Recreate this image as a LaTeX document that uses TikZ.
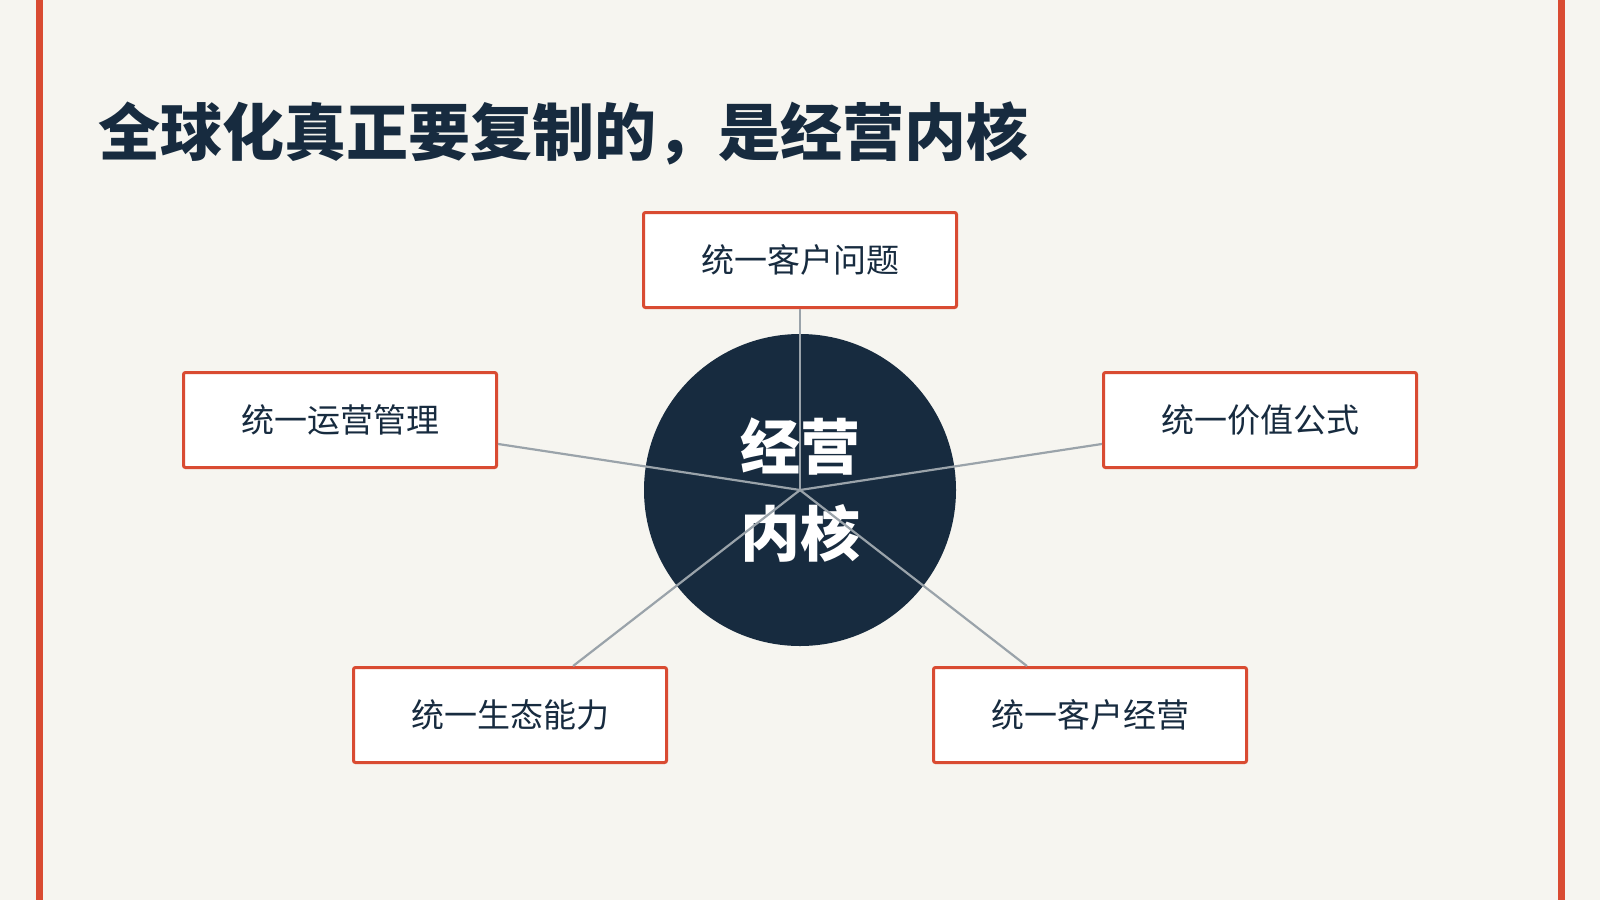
\documentclass[tikz,border=0pt]{standalone}
\usepackage{fontspec}
\newfontfamily\cjk{Noto Sans CJK SC}
\usepackage{tikz}
\definecolor{paper}{HTML}{F6F5F0}
\definecolor{brick}{HTML}{D94B32}
\definecolor{navy}{HTML}{172B3F}
\definecolor{spoke}{HTML}{9AA3AA}
\tikzset{
  pillar/.style={draw=brick,line width=1.5pt,fill=white,rounded corners=1pt,
    minimum width=156.5pt,minimum height=47.5pt,inner sep=0pt,
    text=navy,font=\cjk\fontsize{16.5pt}{20pt}\selectfont},
  core/.style={circle,fill=navy,minimum size=156pt,inner sep=0pt,text=white,
    align=center,font=\cjk\bfseries\fontsize{30pt}{43.5pt}\selectfont}
}
\begin{document}
\begin{tikzpicture}[x=0.5pt,y=-0.5pt]
\useasboundingbox[fill=paper] (0,0) rectangle (1600,900);
\fill[brick] (36,0) rectangle (43,900);
\fill[brick] (1558,0) rectangle (1565,900);
\node[anchor=west,inner sep=0pt,text=navy,font=\cjk\bfseries\fontsize{31pt}{36pt}\selectfont]
  (title) at (98,133) {全球化真正要复制的，是经营内核};
\draw (800,490) node[core](hub){经营\\内核};
\draw
(800,260) node[pillar](problem){统一客户问题}
(1260,420) node[pillar](value){统一价值公式}
(1090,715) node[pillar](customer){统一客户经营}
(510,715) node[pillar](ecosystem){统一生态能力}
(340,420) node[pillar](operation){统一运营管理}
;
\foreach \p in {problem,value,customer,ecosystem,operation}{
\draw[spoke,line width=1.1pt] (hub.center)--(\p);
}
\end{tikzpicture}
\end{document}
